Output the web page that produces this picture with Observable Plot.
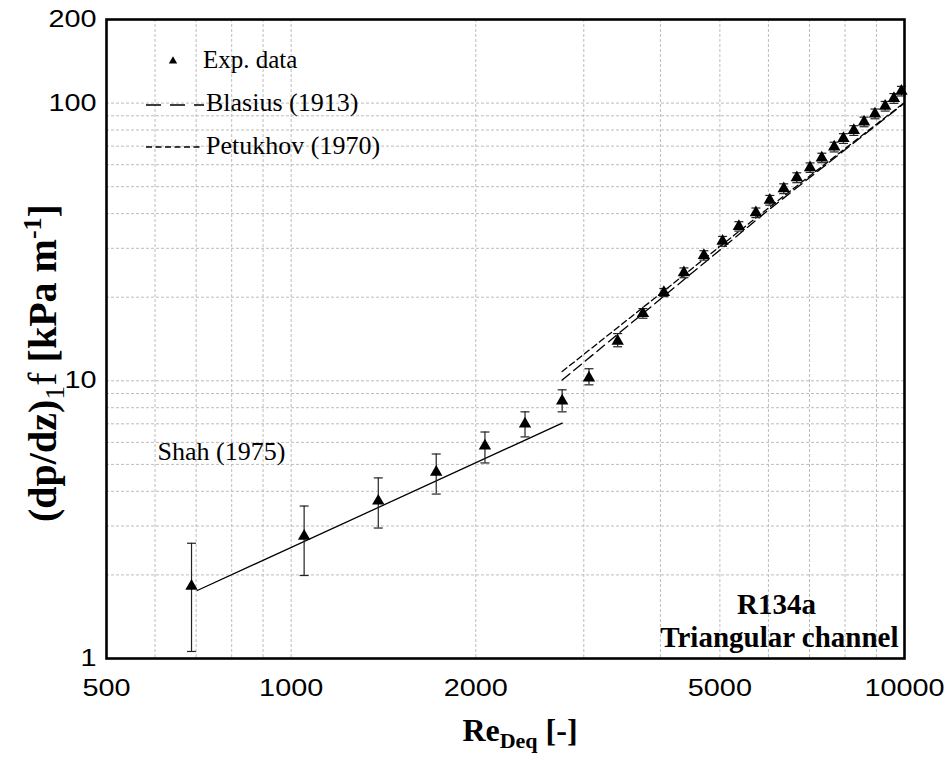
<!DOCTYPE html>
<html><head><meta charset="utf-8">
<script src="https://cdn.jsdelivr.net/npm/d3@7"></script>
<script src="https://cdn.jsdelivr.net/npm/@observablehq/plot@0.6"></script>
<style>body{margin:0;background:#fff}#chart{width:948px;height:767px}</style>
</head><body><div id="chart"></div>
<script>
const reExp = [688, 1050, 1387, 1724, 2070, 2406, 2766, 3059, 3407, 3746, 4052, 4369, 4710, 5051, 5370, 5724, 6031, 6356, 6675, 7015, 7331, 7681, 7951, 8267, 8592, 8951, 9300, 9610, 9885];
const dpExp = [1.82, 2.76, 3.69, 4.69, 5.83, 7.0, 8.47, 10.25, 13.9, 17.5, 20.8, 24.5, 28.3, 31.8, 36.0, 40.3, 44.7, 49.2, 53.9, 58.6, 63.5, 69.5, 74.6, 79.7, 85.6, 91.5, 97.5, 104, 110.5];
const errLo = [1.06, 1.99, 2.95, 3.91, 5.06, 6.28, 7.73, 9.67, 13.26, 16.8, 20.1, 23.5, 27.2, 30.5, 34.6, 38.7, 42.9, 47.2, 51.7, 56.3, 61.0, 66.7, 71.6, 76.5, 82.2, 87.8, 93.6, 99.8, 106.1];
const errHi = [2.6, 3.54, 4.47, 5.45, 6.54, 7.73, 9.28, 11.05, 14.79, 18.2, 21.5, 25.5, 29.4, 33.1, 37.4, 41.9, 46.5, 51.2, 56.1, 60.9, 66.0, 72.3, 77.6, 82.9, 89.0, 95.2, 101.4, 108.2, 114.9];

// Correlations
const reShah = [703, 2766];
const dpShah = [1.757, 7.04];
const reBlasius = [2766, 4000, 6000, 10000];
const dpBlasius = [10.06, 19.7, 41.2, 100];
const rePetukhov = [2766, 4000, 6000, 10000];
const dpPetukhov = [10.8, 20.6, 41.9, 100.5];

// Ticks and grid
const xTicks = [500, 1000, 2000, 5000, 10000];
const yTicks = [1, 10, 100, 200];
const xGrid = [600, 700, 800, 900, 1000, 2000, 3000, 4000, 5000, 6000, 7000, 8000, 9000];
const yGrid = [2, 3, 4, 5, 6, 7, 8, 9, 10, 20, 30, 40, 50, 60, 70, 80, 90, 100];

const expData = reExp.map((re, i) => ({re, dp: dpExp[i], lo: errLo[i], hi: errHi[i]}));
const toRows = (xs, ys) => xs.map((x, i) => ({x, y: ys[i]}));

const capSymbol = {draw(ctx) { ctx.moveTo(-4.5, 0); ctx.lineTo(4.5, 0); }};

// pick an installed Times-like font, if any
function hasFont(name) {
  const c = document.createElement("canvas").getContext("2d");
  const s = "Exp. data Blasius (1913) Wg";
  return ["monospace", "sans-serif"].some(base => {
    c.font = `72px ${base}`; const w0 = c.measureText(s).width;
    c.font = `72px "${name}", ${base}`; const w1 = c.measureText(s).width;
    return Math.abs(w0 - w1) > 0.5;
  });
}
const serifName = ["Liberation Serif", "Tinos", "Times New Roman", "Nimbus Roman", "DejaVu Serif"].find(hasFont);
const serif = serifName ? `"${serifName}", serif` : "serif";
const sans = "'Liberation Sans', Arial, sans-serif";

const plot = Plot.plot({
  width: 948, height: 767,
  marginLeft: 106, marginRight: 44, marginTop: 19, marginBottom: 109,
  x: {type: "log", domain: [500, 10000]},
  y: {type: "log", domain: [1, 200]},
  style: {fontFamily: sans, fontSize: "24px", color: "#000", background: "#fff"},
  marks: [
    Plot.ruleX(xGrid, {stroke: "#bdbdbd", strokeDasharray: "3,2", strokeWidth: 1}),
    Plot.ruleY(yGrid, {stroke: "#bdbdbd", strokeDasharray: "3,2", strokeWidth: 1}),
    Plot.axisX(xTicks, {tickSize: 0, tickPadding: 20, fontSize: 24, tickFormat: d => String(d), label: null}),
    Plot.axisY(yTicks, {tickSize: 0, tickPadding: 10, fontSize: 24, tickFormat: d => String(d), label: null}),
    Plot.line(toRows(reShah, dpShah), {x: "x", y: "y", stroke: "#000", strokeWidth: 1.3}),
    Plot.line(toRows(reBlasius, dpBlasius), {x: "x", y: "y", stroke: "#000", strokeWidth: 1.3, strokeDasharray: "10,5"}),
    Plot.line(toRows(rePetukhov, dpPetukhov), {x: "x", y: "y", stroke: "#000", strokeWidth: 1.3, strokeDasharray: "6,3.5"}),
    Plot.ruleX(expData, {x: "re", y1: "lo", y2: "hi", stroke: "#222", strokeWidth: 1.2}),
    Plot.dot(expData, {x: "re", y: "lo", symbol: capSymbol, stroke: "#222", strokeWidth: 1.2, r: 4}),
    Plot.dot(expData, {x: "re", y: "hi", symbol: capSymbol, stroke: "#222", strokeWidth: 1.2, r: 4}),
    Plot.dot(expData, {x: "re", y: "dp", symbol: "triangle", fill: "#000", r: 4.6}),
    Plot.text(["Shah (1975)"], {frameAnchor: "top-left", textAnchor: "start", lineAnchor: "middle", dx: 51, dy: 432, fontFamily: serif, fontSize: 26}),
    Plot.text(["R134a"], {frameAnchor: "bottom-right", textAnchor: "middle", lineAnchor: "middle", dx: -128, dy: -54, fontFamily: serif, fontSize: 29, fontWeight: "bold"}),
    Plot.text(["Triangular channel"], {frameAnchor: "bottom-right", textAnchor: "end", lineAnchor: "middle", dx: -6, dy: -21, fontFamily: serif, fontSize: 29, fontWeight: "bold"}),
    Plot.frame({stroke: "#000", strokeWidth: 2.6})
  ]
});

document.getElementById("chart").appendChild(plot);
const svg = d3.select(plot);

// widen tick labels like the reference
svg.selectAll('g[aria-label="x-axis tick label"] text, g[aria-label="y-axis tick label"] text').each(function() {
  const t = d3.select(this);
  const tr = t.attr("transform") || "";
  t.attr("transform", `${tr} scale(1.2,1)`);
});

// Legend
const lg = svg.append("g").style("font-family", serif).style("font-size", "26px").attr("fill", "#000").attr("text-anchor", "start");
lg.append("path").attr("d", d3.symbol(d3.symbolTriangle, 30)()).attr("transform", "translate(173,61)").attr("fill", "#000");
lg.append("text").attr("x", 203).attr("y", 68).style("font-size", "25px").text("Exp. data");
lg.append("line").attr("x1", 146).attr("x2", 204).attr("y1", 105).attr("y2", 105).attr("stroke", "#000").attr("stroke-width", 1.3).attr("stroke-dasharray", "15,9");
lg.append("text").attr("x", 206).attr("y", 111).text("Blasius (1913)");
lg.append("line").attr("x1", 146).attr("x2", 202).attr("y1", 147).attr("y2", 147).attr("stroke", "#000").attr("stroke-width", 1.3).attr("stroke-dasharray", "6,3.5");
lg.append("text").attr("x", 206).attr("y", 154).text("Petukhov (1970)");

// Axis titles
const yt = svg.append("text").attr("transform", "translate(56,363) rotate(-90)").attr("text-anchor", "middle")
  .style("font-family", serif).style("font-size", "40px").style("font-weight", "bold").attr("fill", "#000");
yt.append("tspan").text("(dp/dz)");
yt.append("tspan").attr("dy", 8).style("font-size", "28px").style("font-weight", "normal").text("1");
yt.append("tspan").attr("dy", -8).style("font-weight", "normal").text("f");
yt.append("tspan").text(" [kPa m");
yt.append("tspan").attr("dy", -15).style("font-size", "26px").text("-1");
yt.append("tspan").attr("dy", 15).text("]");

const xt = svg.append("text").attr("x", 520).attr("y", 741).attr("text-anchor", "middle")
  .style("font-family", serif).style("font-size", "32px").style("font-weight", "bold").attr("fill", "#000");
xt.append("tspan").text("Re");
xt.append("tspan").attr("dy", 7).style("font-size", "22px").text("Deq");
xt.append("tspan").attr("dy", -7).text(" [-]");
</script>
</body></html>
